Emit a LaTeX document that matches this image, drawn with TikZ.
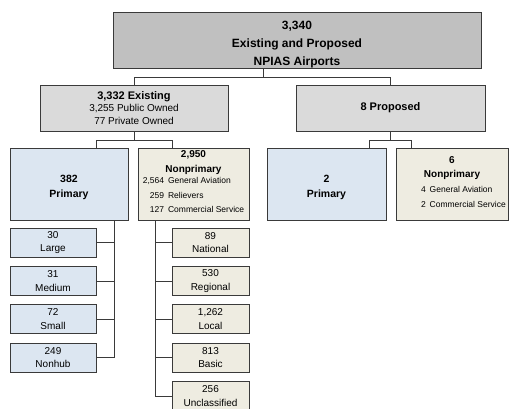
\documentclass[tikz,border=0pt]{standalone}
\usepackage{fontspec}
\setmainfont{Liberation Sans}
\usetikzlibrary{positioning}

\definecolor{topgray}{HTML}{C0C0C0}
\definecolor{midgray}{HTML}{DADADA}
\definecolor{primblue}{HTML}{DCE6F1}
\definecolor{nonprimtan}{HTML}{EEECE1}
\definecolor{edgegray}{HTML}{3A3A3A}

\begin{document}
\begin{tikzpicture}[
    x=1pt, y=-1pt,
    node distance=8.5pt,
    box/.style={draw=edgegray, line width=0.9pt, align=center, inner sep=1pt},
    head/.style={box, fill=topgray, inner sep=0pt, minimum width=368pt, minimum height=55pt, font=\bfseries\fontsize{12}{18}\selectfont},
    group/.style={box, fill=midgray, minimum width=188pt, minimum height=46pt, font=\fontsize{10}{12.5}\selectfont},
    prim/.style={box, fill=primblue, minimum height=72pt, font=\bfseries\fontsize{10.5}{15}\selectfont},
    nonprim/.style={box, fill=nonprimtan, minimum height=72pt, font=\bfseries\fontsize{10}{14.5}\selectfont},
    sub/.style={box, minimum height=29pt, font=\fontsize{10}{13.5}\selectfont},
    lsub/.style={sub, fill=primblue, minimum width=86pt},
    rsub/.style={sub, fill=nonprimtan, minimum width=77pt},
    link/.style={draw=edgegray, line width=0.8pt},
]
\useasboundingbox (0,0) rectangle (509,408);

% Top box
\node[head] (head) at (297,40.5) {\rule{0pt}{17pt}3,340\\Existing and Proposed\\NPIAS Airports};

% Existing and proposed
\node[group] (existing) at (134,108) {{\bfseries\fontsize{11}{13}\selectfont 3,332 Existing}\\3,255 Public Owned\\77 Private Owned};
\node[group, minimum width=189pt, font=\bfseries\fontsize{11}{13}\selectfont] (proposed) at (390.5,108) {8 Proposed};

% Second level
\node[prim, minimum width=118pt] (prim) at (69,184) {\rule{0pt}{14pt}382\\Primary};
\node[nonprim, minimum width=111pt] (nonprim) at (193.5,184) {2,950\\Nonprimary\\[-2pt]
    \normalfont\fontsize{8.5}{14.5}\selectfont\begin{tabular}{@{}r@{\hspace{4pt}}l@{}}2,564 & General Aviation\\259 & Relievers\\127 & Commercial Service\end{tabular}};
\node[prim, minimum width=119pt] (pprim) at (326.5,184) {\rule{0pt}{14pt}2\\Primary};
\node[nonprim, minimum width=112pt] (pnonprim) at (452,184) {6\\Nonprimary\\[1pt]
    \normalfont\fontsize{8.5}{15}\selectfont\makebox[88pt][l]{\hspace*{13pt}\begin{tabular}{@{}l@{\hspace{4pt}}l@{}}4 & General Aviation\\2 & Commercial Service\end{tabular}}};

% Primary hubs
\node[lsub] (large) at (53,242.5) {30\\Large};
\node[lsub, below=of large] (medium) {31\\Medium};
\node[lsub, below=of medium] (small) {72\\Small};
\node[lsub, below=of small] (nonhub) {249\\Nonhub};

% Nonprimary categories
\node[rsub] (national) at (210.5,242.5) {89\\National};
\node[rsub, below=of national] (regional) {530\\Regional};
\node[rsub, below=of regional] (local) {1,262\\Local};
\node[rsub, below=of local] (basic) {813\\Basic};
\node[rsub, below=of basic] (unclassified) {256\\Unclassified};

% Connectors
\coordinate (topsplit) at ([xshift=-34pt]head.south);
\draw[link] (topsplit) -- ++(0,9) coordinate (topbar);
\draw[link] (existing.north) |- (topbar) -| (proposed.north);

\draw[link] (existing.south) -- ++(0,9) coordinate (exbar);
\draw[link] ([xshift=27pt]prim.north) |- (exbar) -| ([xshift=-21.5pt]nonprim.north);

\draw[link] (proposed.south) -- ++(0,9) coordinate (prbar);
\draw[link] ([xshift=42.5pt]pprim.north) |- (prbar) -| ([xshift=-40.5pt]pnonprim.north);

\coordinate (trunkL) at ([xshift=45pt]prim.south);
\draw[link] (trunkL) |- (nonhub.east);
\foreach \n in {large,medium,small}
    \draw[link] (\n.east) -- (\n.east -| trunkL);

\coordinate (trunkR) at ([xshift=-38.5pt]nonprim.south);
\draw[link] (trunkR) |- (unclassified.west);
\foreach \n in {national,regional,local,basic}
    \draw[link] (\n.west) -- (\n.west -| trunkR);
\end{tikzpicture}
\end{document}
